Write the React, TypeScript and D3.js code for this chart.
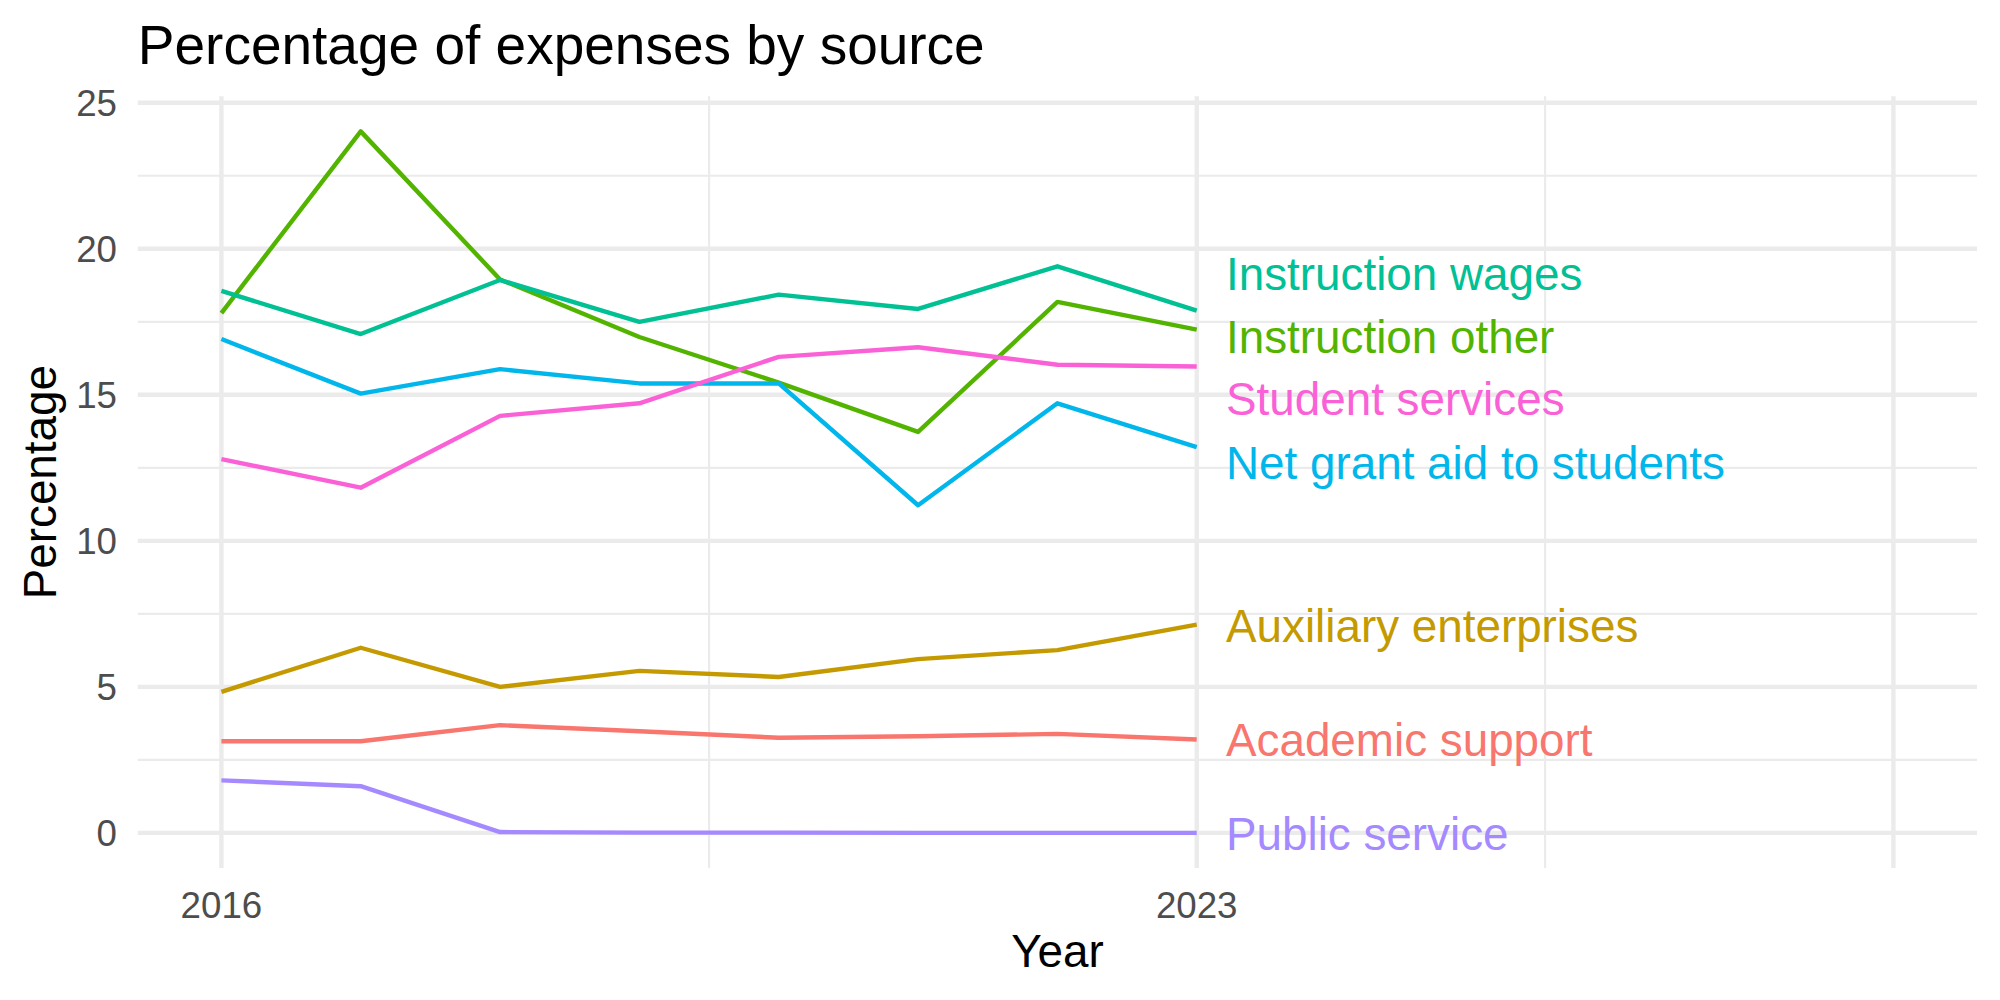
import React from 'react';
import * as d3 from 'd3';

// years on the x axis
const years = [2016, 2017, 2018, 2019, 2020, 2021, 2022, 2023];

const seriesNames = [
  'Academic support',
  'Auxiliary enterprises',
  'Instruction other',
  'Instruction wages',
  'Net grant aid to students',
  'Public service',
  'Student services',
];

// percentage of expenses per source, one value per year
const academicSupport = [3.14, 3.14, 3.69, 3.48, 3.26, 3.31, 3.39, 3.2];
const auxiliaryEnterprises = [4.83, 6.34, 5.0, 5.55, 5.34, 5.95, 6.26, 7.13];
const instructionOther = [17.8, 24.02, 18.95, 16.98, 15.42, 13.73, 18.18, 17.23];
const instructionWages = [18.56, 17.08, 18.93, 17.5, 18.43, 17.94, 19.4, 17.88];
const netGrantAid = [16.91, 15.04, 15.88, 15.39, 15.39, 11.22, 14.71, 13.21];
const publicService = [1.8, 1.6, 0.03, 0.01, 0.01, 0, 0, 0];
const studentServices = [12.8, 11.82, 14.28, 14.71, 16.3, 16.63, 16.03, 15.97];

// end labels were pushed apart (repel), these are where they landed
const labelValues = [3.17, 7.1, 16.99, 19.15, 12.68, -0.03, 14.86];

const xLimits = [2016, 2028];
const xBreaks = [2016, 2023, 2028];
const xBreakLabels = ['2016', '2023', ''];
const yBreaks = [0, 5, 10, 15, 20, 25];

const palette = ['#F8766D', '#C49A00', '#53B400', '#00C094', '#00B6EB', '#A58AFF', '#FB61D7'];

const W = 2000;
const H = 1000;
const panel = { left: 137.8, right: 1977, top: 96.3, bottom: 868 };
const font = '"Liberation Sans", Arial, Helvetica, sans-serif';

export default function App() {
  const values = [
    academicSupport,
    auxiliaryEnterprises,
    instructionOther,
    instructionWages,
    netGrantAid,
    publicService,
    studentServices,
  ];
  const series = seriesNames.map((name, i) => ({
    name,
    color: palette[i],
    label: labelValues[i],
    points: years.map((year, j) => ({ year, value: values[i][j] })),
  }));

  // ggplot-style 5% expansion
  const xSpan = xLimits[1] - xLimits[0];
  const x = d3
    .scaleLinear()
    .domain([xLimits[0] - xSpan * 0.05, xLimits[1] + xSpan * 0.05])
    .range([panel.left, panel.right]);

  const allVals = values.flat();
  const [yMin, yMax] = d3.extent(allVals) as [number, number];
  const ySpan = yMax - yMin;
  const y = d3
    .scaleLinear()
    .domain([yMin - ySpan * 0.05, yMax + ySpan * 0.05])
    .range([panel.bottom, panel.top]);

  const xMinor = xBreaks.slice(1).map((b, i) => (b + xBreaks[i]) / 2);
  const yMinor = yBreaks.slice(1).map((b, i) => (b + yBreaks[i]) / 2);

  const line = d3
    .line<{ year: number; value: number }>()
    .x((d) => x(d.year))
    .y((d) => y(d.value));

  const lastYear = years[years.length - 1];
  const gridColor = '#EBEBEB';

  return (
    <svg
      width={W}
      height={H}
      style={{ position: 'absolute', left: 0, top: 0, background: '#fff' }}
      fontFamily={font}
    >
      {/* minor grid */}
      {yMinor.map((v) => (
        <line key={'ym' + v} x1={panel.left} x2={panel.right} y1={y(v)} y2={y(v)} stroke={gridColor} strokeWidth={2.2} />
      ))}
      {xMinor.map((v) => (
        <line key={'xm' + v} x1={x(v)} x2={x(v)} y1={panel.top} y2={panel.bottom} stroke={gridColor} strokeWidth={2.2} />
      ))}
      {/* major grid */}
      {yBreaks.map((v) => (
        <line key={'yM' + v} x1={panel.left} x2={panel.right} y1={y(v)} y2={y(v)} stroke={gridColor} strokeWidth={4.4} />
      ))}
      {xBreaks.map((v) => (
        <line key={'xM' + v} x1={x(v)} x2={x(v)} y1={panel.top} y2={panel.bottom} stroke={gridColor} strokeWidth={4.4} />
      ))}

      {/* lines */}
      {series.map((s) => (
        <path
          key={s.name}
          d={line(s.points) || ''}
          fill="none"
          stroke={s.color}
          strokeWidth={4.4}
          strokeLinejoin="round"
        />
      ))}

      {/* end labels */}
      {series.map((s) => (
        <text
          key={'lab' + s.name}
          x={x(lastYear + 0.21)}
          y={y(s.label)}
          dy="0.35em"
          fontSize={45.8}
          fill={s.color}
        >
          {s.name}
        </text>
      ))}

      {/* y axis labels */}
      {yBreaks.map((v) => (
        <text key={'yt' + v} x={117} y={y(v)} dy="0.35em" textAnchor="end" fontSize={36.7} fill="#4D4D4D">
          {v}
        </text>
      ))}
      {/* x axis labels */}
      {xBreaks.map((v, i) => (
        <text key={'xt' + v} x={x(v)} y={918} textAnchor="middle" fontSize={36.7} fill="#4D4D4D">
          {xBreakLabels[i]}
        </text>
      ))}

      <text x={(panel.left + panel.right) / 2} y={967} textAnchor="middle" fontSize={45.8} fill="#000">
        Year
      </text>
      <text
        transform={`translate(40, ${(panel.top + panel.bottom) / 2}) rotate(-90)`}
        dy="0.35em"
        textAnchor="middle"
        fontSize={45.8}
        fill="#000"
      >
        Percentage
      </text>
      <text x={panel.left} y={64} fontSize={55} fill="#000">
        Percentage of expenses by source
      </text>
    </svg>
  );
}
